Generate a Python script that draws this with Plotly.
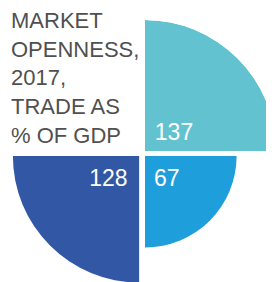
import numpy as np
import plotly.graph_objects as go

# ---- data ----
categories = ["Quadrant A", "Quadrant B", "Quadrant C"]
values = [137, 67, 128]
theta_centers = [45, 315, 225]
colors = ["#63C2D0", "#1E9EDB", "#3258A5"]
title_lines = ["MARKET", "OPENNESS,", "2017,", "TRADE AS", "% OF GDP"]

# label placement (polar coords inside each quadrant, sqrt-units / degrees)
label_r = [1.76, 2.31, 2.41]
label_theta = [60.1, 290.4, 243.9]
label_pos = ["middle right", "middle right", "middle left"]

# ---- layout geometry (px, page coordinates) ----
W, H = 274, 282
OFF = 8                          # default page body margin
R_MAX_PX = 131                   # radius of the largest value
r_max = np.sqrt(max(values))
cx, cy = 142.25, 153.5           # visual centre of the exploded pie
gx, gy = 2.75, 2.45              # half-gaps between quadrants
signs = [(1, 1), (1, -1), (-1, -1)]   # (x dir, y dir; up = +1)
sectors = [[0, 90], [270, 360], [180, 270]]
FONT = "Liberation Sans, Arial, Helvetica, sans-serif"

fig = go.Figure()
layout_polars = {}
for i, v in enumerate(values):
    sx, sy = signs[i]
    x0 = cx + sx * gx - OFF
    y0 = cy - sy * gy - OFF
    s = R_MAX_PX
    xd = [x0, x0 + s] if sx > 0 else [x0 - s, x0]
    yd = [y0 - s, y0] if sy > 0 else [y0, y0 + s]
    name = "polar" if i == 0 else f"polar{i+1}"
    layout_polars[name] = dict(
        domain=dict(x=[max(0, xd[0] / W), min(1, xd[1] / W)],
                    y=[max(0, 1 - yd[1] / H), min(1, 1 - yd[0] / H)]),
        sector=sectors[i],
        hole=0,
        bgcolor="rgba(0,0,0,0)",
        radialaxis=dict(range=[0, r_max], visible=False),
        angularaxis=dict(visible=False, rotation=0, direction="counterclockwise"),
    )
    fig.add_trace(go.Barpolar(
        r=[np.sqrt(v)], theta=[theta_centers[i]], width=[90],
        marker=dict(color=colors[i], line=dict(width=0)),
        name=categories[i], subplot=name, hoverinfo="skip",
    ))
    fig.add_trace(go.Scatterpolar(
        r=[label_r[i]], theta=[label_theta[i]], mode="text",
        text=[str(v)], textposition=label_pos[i],
        textfont=dict(family=FONT, size=23, color="white"),
        subplot=name, hoverinfo="skip", cliponaxis=False,
    ))

annotations = []
for j, line in enumerate(title_lines):
    yc = 20.5 + 28.7 * j - OFF
    annotations.append(dict(
        text=line, xref="paper", yref="paper", x=1.1 / W, y=1 - yc / H,
        xanchor="left", yanchor="middle", align="left", showarrow=False,
        font=dict(family=FONT, size=22, color="#505050"),
    ))

fig.update_layout(
    **layout_polars,
    width=W, height=H,
    margin=dict(l=0, r=0, t=0, b=0),
    paper_bgcolor="white",
    plot_bgcolor="white",
    showlegend=False,
    annotations=annotations,
)

fig.write_html("out.html")
